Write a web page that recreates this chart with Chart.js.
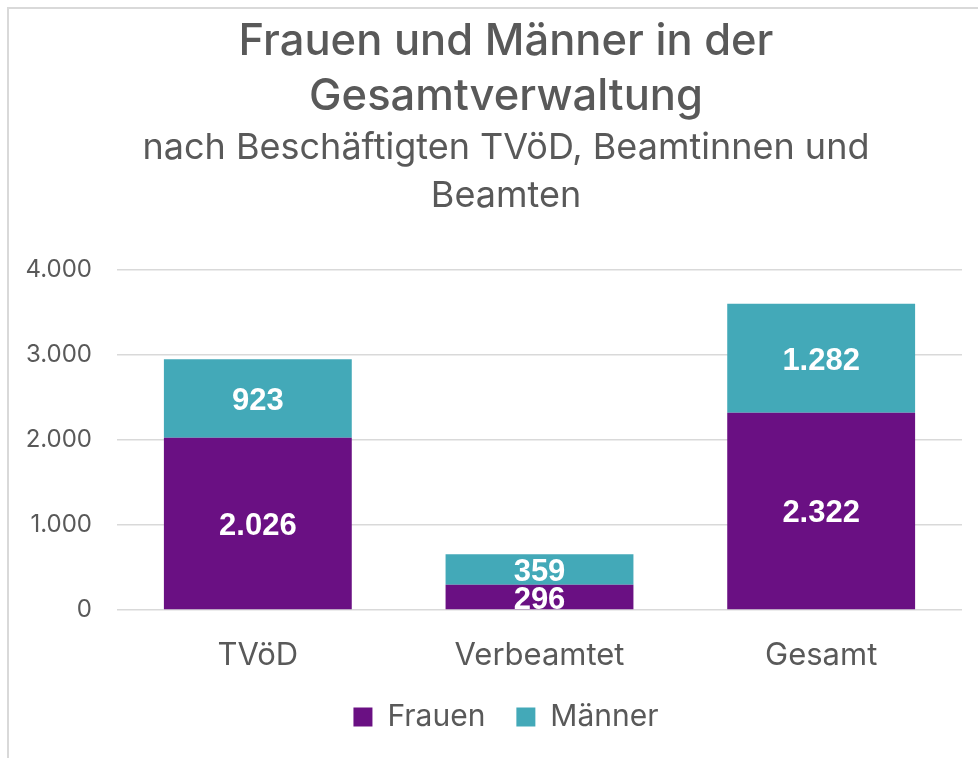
<!DOCTYPE html>
<html>
<head>
<meta charset="utf-8">
<script src="https://cdn.jsdelivr.net/npm/chart.js@4/dist/chart.umd.min.js"></script>
<style>
  html, body { margin: 0; padding: 0; background: #ffffff; overflow: hidden; width: 978px; height: 758px; }
  #frame { position: absolute; left: 7px; top: 7px; width: 990px; height: 780px; border-top: 2px solid #d9d9d9; border-left: 2px solid #d9d9d9; box-sizing: border-box; }
  #c { position: absolute; left: 0; top: 0; }
</style>
</head>
<body>
<div id="frame"></div>
<canvas id="c" width="978" height="758"></canvas>
<script>
const categories = ['TVöD', 'Verbeamtet', 'Gesamt'];
const frauen = [2026, 296, 2322];
const maenner = [923, 359, 1282];
const yTicks = [0, 1000, 2000, 3000, 4000];
const titleLines = ['Frauen und Männer in der', 'Gesamtverwaltung'];
const subtitleLines = ['nach Beschäftigten TVöD, Beamtinnen und', 'Beamten'];

const TEXT = '#595959';
const PURPLE = '#6a1083';
const TEAL = '#43a9b8';
const FONT = 'Inter, "Noto Sans", sans-serif';

function fmtDE(v) {
  return String(Math.round(v)).replace(/\B(?=(\d{3})+(?!\d))/g, '.');
}

// white value labels in the middle of each bar segment
const barLabels = {
  id: 'barLabels',
  afterDatasetsDraw(chart) {
    const ctx = chart.ctx;
    ctx.save();
    ctx.fillStyle = '#ffffff';
    ctx.font = 'bold 31px "Liberation Sans", Arial, sans-serif';
    ctx.textAlign = 'center';
    ctx.textBaseline = 'middle';
    chart.data.datasets.forEach((ds, i) => {
      const meta = chart.getDatasetMeta(i);
      meta.data.forEach((bar, j) => {
        const p = bar.getProps(['x', 'y', 'base'], true);
        ctx.fillText(fmtDE(ds.data[j]), p.x, (p.y + p.base) / 2 + 3);
      });
    });
    ctx.restore();
  }
};

// centre title, subtitle and legend over the whole frame (not only left of the axis)
const shiftBlocks = {
  id: 'shiftBlocks',
  afterLayout(chart) {
    chart.boxes.forEach(b => {
      if (!b.axis) { b.left += 24; }
    });
  }
};

new Chart(document.getElementById('c'), {
  type: 'bar',
  data: {
    labels: categories,
    datasets: [
      { label: 'Frauen', data: frauen, backgroundColor: PURPLE, borderWidth: 0 },
      { label: 'Männer', data: maenner, backgroundColor: TEAL, borderWidth: 0 }
    ]
  },
  options: {
    responsive: false,
    animation: false,
    layout: { padding: { left: 26, right: 16, top: 0, bottom: 16 } },
    datasets: { bar: { barPercentage: 0.667, categoryPercentage: 1 } },
    scales: {
      x: {
        stacked: true,
        grid: { display: false },
        border: { display: false },
        afterFit(scale) { scale.height = 61; },
        ticks: { color: TEXT, font: { family: FONT, size: 31, lineHeight: 1.2 }, padding: 19 }
      },
      y: {
        stacked: true,
        min: 0,
        max: 4000,
        afterBuildTicks(scale) { scale.ticks = yTicks.map(v => ({ value: v })); },
        afterFit(scale) { scale.width = 91; },
        grid: { color: '#d9d9d9', lineWidth: 1.5, drawTicks: false },
        border: { display: false },
        ticks: {
          color: TEXT,
          padding: 25,
          font: { family: FONT, size: 24 },
          callback: (v) => fmtDE(v)
        }
      }
    },
    plugins: {
      title: {
        display: true,
        text: titleLines,
        color: TEXT,
        font: { family: FONT, size: 43.5, weight: '500', lineHeight: 1.26 },
        padding: { top: 15, bottom: 0 }
      },
      subtitle: {
        display: true,
        text: subtitleLines,
        color: TEXT,
        font: { family: FONT, size: 36, weight: '400', lineHeight: 1.333 },
        padding: { top: 0, bottom: 49.4 }
      },
      legend: {
        position: 'bottom',
        labels: {
          color: TEXT,
          font: { family: FONT, size: 30 },
          boxWidth: 19,
          boxHeight: 19,
          padding: 31
        }
      },
      tooltip: { enabled: false }
    }
  },
  plugins: [barLabels, shiftBlocks]
});
</script>
</body>
</html>
